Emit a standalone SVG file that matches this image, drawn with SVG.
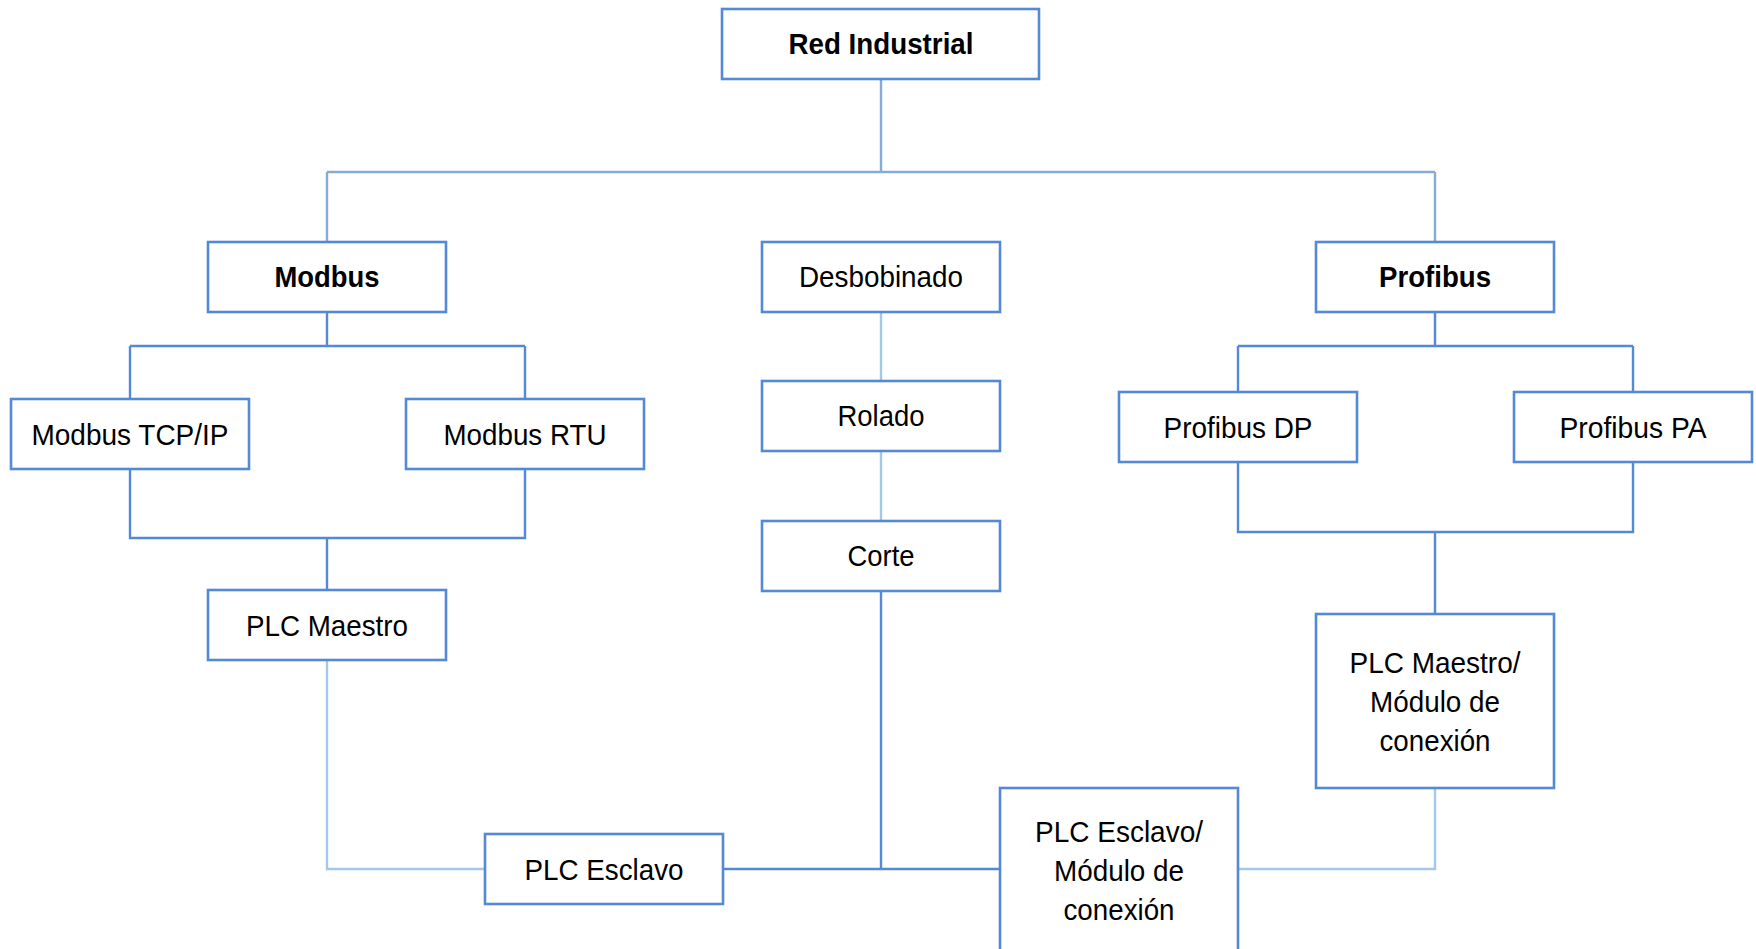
<svg xmlns="http://www.w3.org/2000/svg" width="1756" height="949" viewBox="0 0 1756 949">
<style>
.box{fill:#fff;stroke:#5489d6;stroke-width:2.6}
.t{font-family:"Liberation Sans",Arial,sans-serif;font-size:30px;fill:#000;text-anchor:middle}
.b{font-weight:bold}
.c{fill:none;stroke-width:2.4}
.g{stroke:#86abd6}
.d{stroke:#5489d6}
.l{stroke:#a3c8ea}
</style>
<rect width="1756" height="949" fill="#fff"/>
<g id="connectors">
<path class="c g" d="M881 79V172M327 172H1435M327 172V242M1435 172V242"/>
<path class="c d" d="M327 312V346M130 346H525M130 346V399M525 346V399M130 469V538H525V469M327 538V590"/>
<path class="c l" d="M327 660V869H485"/>
<path class="c l" d="M881 312V381M881 451V521"/>
<path class="c d" d="M881 591V869M723 869H1000"/>
<path class="c d" d="M1435 312V346M1238 346H1633M1238 346V392M1633 346V392M1238 462V532H1633V462M1435 532V614"/>
<path class="c l" d="M1435 788V869H1238"/>
</g>
<g id="red-industrial"><rect class="box" x="722" y="9" width="317" height="70"/><text class="t b" x="881" y="54" textLength="185" lengthAdjust="spacingAndGlyphs">Red Industrial</text></g>
<g id="modbus"><rect class="box" x="208" y="242" width="238" height="70"/><text class="t b" x="327" y="287" textLength="105" lengthAdjust="spacingAndGlyphs">Modbus</text></g>
<g id="desbobinado"><rect class="box" x="762" y="242" width="238" height="70"/><text class="t" x="881" y="287" textLength="164" lengthAdjust="spacingAndGlyphs">Desbobinado</text></g>
<g id="profibus"><rect class="box" x="1316" y="242" width="238" height="70"/><text class="t b" x="1435" y="287" textLength="112" lengthAdjust="spacingAndGlyphs">Profibus</text></g>
<g id="modbus-tcp"><rect class="box" x="11" y="399" width="238" height="70"/><text class="t" x="130" y="445" textLength="197" lengthAdjust="spacingAndGlyphs">Modbus TCP/IP</text></g>
<g id="modbus-rtu"><rect class="box" x="406" y="399" width="238" height="70"/><text class="t" x="525" y="445" textLength="163" lengthAdjust="spacingAndGlyphs">Modbus RTU</text></g>
<g id="rolado"><rect class="box" x="762" y="381" width="238" height="70"/><text class="t" x="881" y="426" textLength="87" lengthAdjust="spacingAndGlyphs">Rolado</text></g>
<g id="corte"><rect class="box" x="762" y="521" width="238" height="70"/><text class="t" x="881" y="566" textLength="67" lengthAdjust="spacingAndGlyphs">Corte</text></g>
<g id="profibus-dp"><rect class="box" x="1119" y="392" width="238" height="70"/><text class="t" x="1238" y="438" textLength="149" lengthAdjust="spacingAndGlyphs">Profibus DP</text></g>
<g id="profibus-pa"><rect class="box" x="1514" y="392" width="238" height="70"/><text class="t" x="1633" y="438" textLength="147" lengthAdjust="spacingAndGlyphs">Profibus PA</text></g>
<g id="plc-maestro"><rect class="box" x="208" y="590" width="238" height="70"/><text class="t" x="327" y="636" textLength="162" lengthAdjust="spacingAndGlyphs">PLC Maestro</text></g>
<g id="plc-esclavo"><rect class="box" x="485" y="834" width="238" height="70"/><text class="t" x="604" y="880" textLength="159" lengthAdjust="spacingAndGlyphs">PLC Esclavo</text></g>
<g id="plc-maestro-modulo"><rect class="box" x="1316" y="614" width="238" height="174"/>
<text class="t" x="1435" y="673" textLength="171" lengthAdjust="spacingAndGlyphs">PLC Maestro/</text>
<text class="t" x="1435" y="712" textLength="130" lengthAdjust="spacingAndGlyphs">Módulo de</text>
<text class="t" x="1435" y="751" textLength="111" lengthAdjust="spacingAndGlyphs">conexión</text></g>
<g id="plc-esclavo-modulo"><rect class="box" x="1000" y="788" width="238" height="175"/>
<text class="t" x="1119" y="842" textLength="168" lengthAdjust="spacingAndGlyphs">PLC Esclavo/</text>
<text class="t" x="1119" y="881" textLength="130" lengthAdjust="spacingAndGlyphs">Módulo de</text>
<text class="t" x="1119" y="920" textLength="111" lengthAdjust="spacingAndGlyphs">conexión</text></g>
</svg>
